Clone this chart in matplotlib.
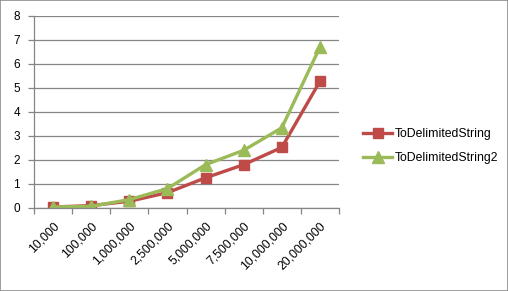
import matplotlib
matplotlib.use("Agg")
import matplotlib.pyplot as plt
from matplotlib.patches import Rectangle

categories = ["10,000", "100,000", "1,000,000", "2,500,000", "5,000,000",
              "7,500,000", "10,000,000", "20,000,000"]
series1_name = "ToDelimitedString"
series1 = [0.02, 0.08, 0.26, 0.62, 1.24, 1.79, 2.51, 5.27]
series2_name = "ToDelimitedString2"
series2 = [0.02, 0.05, 0.33, 0.79, 1.79, 2.39, 3.33, 6.70]
yticks = [0, 1, 2, 3, 4, 5, 6, 7, 8]

plt.rcParams['font.family'] = ['Liberation Sans', 'DejaVu Sans']

fig = plt.figure(figsize=(5.08, 2.91), dpi=100)
fig.patches.append(Rectangle((0, 0), 1, 1, transform=fig.transFigure,
                             fill=False, edgecolor='#8c8c8c', linewidth=1.2))
ax = fig.add_axes([34/508, 1 - 207.5/291, (339-34)/508, (207.5-16)/291])

x = list(range(len(categories)))
grey = '#868686'
ax.plot(x, series1, color='#BE4B48', linewidth=2.4, marker='s', markersize=7.5,
        label=series1_name, solid_joinstyle='round')
ax.plot(x, series2, color='#9BBB59', linewidth=2.4, marker='^', markersize=8,
        label=series2_name, solid_joinstyle='round')

ax.set_xlim(-0.5, len(categories) - 0.5)
ax.set_ylim(0, 8)
ax.set_yticks(yticks)
ax.yaxis.grid(True, color=grey, linewidth=0.9)
ax.set_axisbelow(True)
for s in ['top', 'right']:
    ax.spines[s].set_visible(False)
for s in ['left', 'bottom']:
    ax.spines[s].set_color(grey)
    ax.spines[s].set_linewidth(0.9)

ax.set_xticks(x)
ax.set_xticklabels(categories, rotation=45, ha='right', rotation_mode='anchor', fontsize=8.8)
ax.tick_params(axis='x', which='major', length=0, pad=9)
ax.set_xticks([i - 0.5 for i in range(len(categories) + 1)], minor=True)
ax.tick_params(axis='x', which='minor', length=4, color=grey, width=0.9)
ax.tick_params(axis='y', length=4, color=grey, width=0.9, labelsize=8.5, pad=6)

leg = fig.legend(loc='center left', bbox_to_anchor=(352/508, 1 - 146/291),
                 frameon=False, fontsize=8.8, handlelength=2.4, labelspacing=1.0,
                 handletextpad=0.2)

fig.savefig("out.png", dpi=100)
